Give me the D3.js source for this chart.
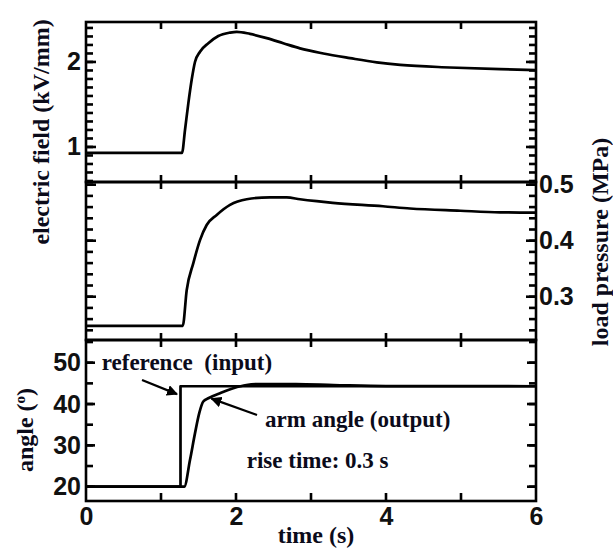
<!DOCTYPE html>
<html>
<head>
<meta charset="utf-8">
<script src="https://cdn.jsdelivr.net/npm/d3@7"></script>
<style>
  body { margin: 0; background: #fff; }
  svg { display: block; }
  .tick text { font-family: "Liberation Sans", Arial, sans-serif; font-weight: bold; font-size: 25px; fill: #111; }
  .title { font-family: "Liberation Serif", "Times New Roman", serif; font-weight: bold; font-size: 24px; fill: #0b0b1a; }
  .note { font-family: "Liberation Serif", "Times New Roman", serif; font-weight: bold; font-size: 23px; fill: #0b0b1a; }
</style>
</head>
<body>
<div id="container"></div>
<script>
// electric field (kV/mm) vs time (s)
var tField = [0, 1.28, 1.32, 1.364, 1.409, 1.453, 1.52, 1.631, 1.764, 1.92, 2.01, 2.187, 2.41, 2.63, 2.853, 3.164, 3.52, 3.876, 4.19, 4.85, 5.52, 6]
var field  = [0.93, 0.93, 1.2, 1.51, 1.79, 2.0, 2.12, 2.22, 2.305, 2.345, 2.355, 2.33, 2.28, 2.22, 2.16, 2.10, 2.045, 1.995, 1.965, 1.935, 1.915, 1.905]

// load pressure (MPa)
var tPress = [0, 1.29, 1.343, 1.431, 1.52, 1.609, 1.743, 1.92, 2.143, 2.453, 2.676, 2.853, 3.076, 3.29, 3.96, 4.32, 4.99, 5.52, 6]
var press  = [0.248, 0.248, 0.312, 0.360, 0.401, 0.428, 0.446, 0.464, 0.474, 0.4775, 0.4772, 0.474, 0.4705, 0.4675, 0.4615, 0.4575, 0.4535, 0.4507, 0.45]

// angle: reference (input) step and arm angle (output)
var tRef = [0, 1.26, 1.26, 6]
var ref  = [20, 20, 44.3, 44.3]
var tArm = [0, 1.31, 1.387, 1.453, 1.51, 1.564, 1.631, 1.787, 1.964, 2.14, 2.32, 2.8, 3.3, 4, 6]
var arm  = [20, 20, 26.5, 32.9, 37.8, 40.6, 41.4, 42.6, 43.8, 44.6, 44.85, 44.8, 44.6, 44.35, 44.3]

var xTicks = [0, 1, 2, 3, 4, 5, 6]
var fieldLabels = [1, 2]
var pressLabels = [0.3, 0.4, 0.5]
var angleLabels = [20, 30, 40, 50]

var W = 613, H = 550
var svg = d3.select("#container").append("svg").attr("width", W).attr("height", H)

var x = d3.scaleLinear().domain([0, 6]).range([86, 536])
var yField = d3.scaleLinear().domain([0.588, 2.47]).range([182, 22])
var yPress = d3.scaleLinear().domain([0.2227, 0.5048]).range([340, 182])
var yAngle = d3.scaleLinear().domain([16.54, 55.49]).range([501, 340])

var X0 = x.range()[0], X1 = x.range()[1]

function zip(ts, vs) { return ts.map((t, i) => [t, vs[i]]) }

// frames
;[[22, 182], [182, 340], [340, 501]].forEach(function (p) {
  svg.append("rect")
    .attr("x", X0).attr("y", p[0])
    .attr("width", X1 - X0).attr("height", p[1] - p[0])
    .attr("fill", "none").attr("stroke", "#000").attr("stroke-width", 2.6)
})

// tick marks as small filled rects, placed through the scales
var tk = svg.append("g").attr("fill", "#000")
var TW = 2.6
function yMarks(y, values, len) {
  tk.append("g").selectAll("rect").data(values).join("rect")
    .attr("x", X0).attr("y", d => y(d) - TW / 2).attr("width", len).attr("height", TW)
  tk.append("g").selectAll("rect").data(values).join("rect")
    .attr("x", X1 - len).attr("y", d => y(d) - TW / 2).attr("width", len).attr("height", TW)
}
function xMarks(yy, values, up, down) {
  tk.append("g").selectAll("rect").data(values).join("rect")
    .attr("x", d => x(d) - TW / 2).attr("y", yy - up).attr("width", TW).attr("height", up + down)
}

yMarks(yField, d3.range(6, 25).map(d => d / 10), 7)
yMarks(yField, fieldLabels, 10)
yMarks(yPress, d3.range(12, 26).map(d => d / 50), 7)
yMarks(yPress, pressLabels, 10)
yMarks(yAngle, d3.range(20, 56, 5), 7)
yMarks(yAngle, angleLabels, 9)

var inner = [1, 2, 3, 4, 5]
xMarks(22, inner, 0, 7)
xMarks(182, inner, 7, 7)
xMarks(340, inner, 7, 7)
xMarks(501, inner, 8, 0)

// tick labels through d3 axes
function labels(axis, tx, ty) {
  var g = svg.append("g").attr("transform", "translate(" + tx + "," + ty + ")").call(axis)
  g.select(".domain").remove()
  g.selectAll(".tick line").remove()
  return g
}
labels(d3.axisLeft(yField).tickValues(fieldLabels).tickSize(0).tickPadding(5).tickFormat(d3.format("d")), X0, 0)
labels(d3.axisLeft(yAngle).tickValues(angleLabels).tickSize(0).tickPadding(5).tickFormat(d3.format("d")), X0, 0)
labels(d3.axisRight(yPress).tickValues(pressLabels).tickSize(0).tickPadding(3).tickFormat(d3.format(".1f")), X1, 0)
labels(d3.axisBottom(x).tickValues(xTicks.filter(d => d % 2 === 0)).tickSize(0).tickPadding(6).tickFormat(d3.format("d")), 0, 501)

// curves
function drawLine(data, y, curve) {
  svg.append("path")
    .datum(data)
    .attr("fill", "none").attr("stroke", "#000").attr("stroke-width", 2.7)
    .attr("stroke-linejoin", "round")
    .attr("d", d3.line().x(d => x(d[0])).y(d => y(d[1])).curve(curve))
}
drawLine(zip(tField, field), yField, d3.curveMonotoneX)
drawLine(zip(tPress, press), yPress, d3.curveMonotoneX)
drawLine(zip(tRef, ref), yAngle, d3.curveLinear)
drawLine(zip(tArm, arm), yAngle, d3.curveMonotoneX)

// annotations
svg.append("defs").append("marker")
  .attr("id", "head").attr("viewBox", "0 0 10 10").attr("refX", 9).attr("refY", 5)
  .attr("markerWidth", 5).attr("markerHeight", 5).attr("orient", "auto")
  .append("path").attr("d", "M0,0 L10,5 L0,10 z").attr("fill", "#000")

var arrows = [
  { from: [0.747, 45.8], to: [1.213, 42.4] },
  { from: [2.28, 37.35], to: [1.673, 41.3] }
]
arrows.forEach(function (a) {
  svg.append("line")
    .attr("x1", x(a.from[0])).attr("y1", yAngle(a.from[1]))
    .attr("x2", x(a.to[0])).attr("y2", yAngle(a.to[1]))
    .attr("stroke", "#000").attr("stroke-width", 2.2)
    .attr("marker-end", "url(#head)")
})

var notes = [
  { t: 0.21, v: 48.2, text: "reference\u00a0 (input)" },
  { t: 2.387, v: 34.5, text: "arm angle (output)" },
  { t: 2.143, v: 24.5, text: "rise time: 0.3 s" }
]
notes.forEach(function (n) {
  svg.append("text").attr("class", "note")
    .attr("x", x(n.t)).attr("y", yAngle(n.v)).text(n.text)
})

// axis titles
svg.append("text").attr("class", "title")
  .attr("transform", "translate(49,132) rotate(-90)")
  .attr("text-anchor", "middle").text("electric field (kV/mm)")

svg.append("text").attr("class", "title")
  .attr("transform", "translate(608,242) rotate(-90)")
  .attr("text-anchor", "middle").text("load pressure (MPa)")

var at = svg.append("text").attr("class", "title")
  .attr("transform", "translate(33,430) rotate(-90)")
  .attr("text-anchor", "middle")
at.append("tspan").text("angle (")
at.append("tspan").attr("font-size", "15px").attr("dy", "-8").text("o")
at.append("tspan").attr("dy", "8").text(")")

svg.append("text").attr("class", "title")
  .attr("x", 316).attr("y", 543)
  .attr("text-anchor", "middle").text("time (s)")
</script>
</body>
</html>
